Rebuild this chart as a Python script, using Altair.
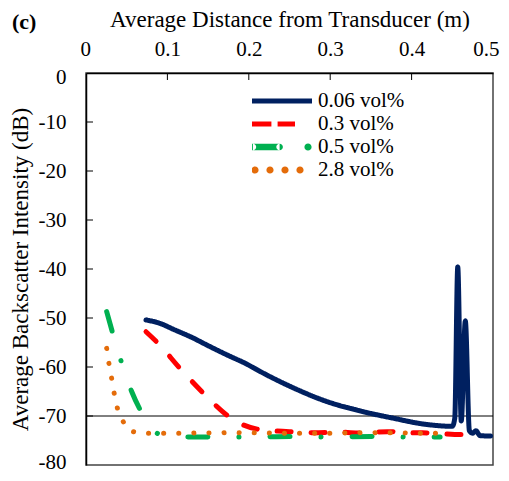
import altair as alt
import pandas as pd

FONT = "Liberation Serif"

series = ["0.06 vol%", "0.3 vol%", "0.5 vol%", "2.8 vol%"]
colors = ["#002060", "#FF0000", "#00B050", "#E46C0A"]

navy_x = [0.0737, 0.0909, 0.1073, 0.1318, 0.1483, 0.1728, 0.1974, 0.2138, 0.254, 0.295,
          0.335, 0.376, 0.417, 0.450, 0.453, 0.4567, 0.461, 0.466, 0.471, 0.475, 0.479,
          0.484, 0.497]
navy_y = [-50.4, -51.1, -52.3, -54.1, -55.5, -57.5, -59.4, -60.9, -64.2, -67.0,
          -68.9, -70.4, -71.7, -72.1, -70.5, -39.6, -71.0, -50.6, -73.0, -73.5, -73.0,
          -74.0, -74.1]

red_x = [0.0737, 0.0888, 0.1155, 0.144, 0.173, 0.193, 0.215, 0.25, 0.28, 0.31, 0.34,
         0.37, 0.40, 0.43, 0.46, 0.48]
red_y = [-52.8, -55.2, -60.3, -65.3, -69.8, -71.8, -72.8, -73.2, -73.4, -73.3, -73.5,
         -73.2, -73.4, -73.5, -73.8, -73.8]

green_x = [0.0254, 0.0335, 0.0439, 0.0561, 0.0725, 0.0909, 0.11, 0.15, 0.20, 0.25,
           0.30, 0.35, 0.40, 0.435]
green_y = [-48.7, -53.5, -59.2, -65.0, -70.4, -73.8, -74.2, -74.3, -74.3, -74.2,
           -74.3, -74.2, -74.3, -74.3]

orange_x = [0.0254, 0.0283, 0.0316, 0.0348, 0.0389, 0.0446, 0.0553, 0.0737, 0.12,
            0.18, 0.24, 0.30, 0.36, 0.41, 0.445]
orange_y = [-56.2, -59.4, -62.4, -65.5, -68.6, -70.8, -73.1, -73.5, -73.5,
            -73.4, -73.5, -73.5, -73.4, -73.5, -73.5]

x_ticks = [0, 0.1, 0.2, 0.3, 0.4, 0.5]
y_ticks = [0, -10, -20, -30, -40, -50, -60, -70, -80]
inner_x_ticks = [0.1, 0.2, 0.3, 0.4]
inner_y_ticks = [-10, -20, -30, -40, -50, -60, -70]
ref_level = [-70]

rows = []
for name, xs, ys in zip(series, [navy_x, red_x, green_x, orange_x],
                        [navy_y, red_y, green_y, orange_y]):
    for i, (xv, yv) in enumerate(zip(xs, ys)):
        rows.append({"series": name, "x": xv, "y": yv, "i": i})
df = pd.DataFrame(rows)


# legend symbol shapes (unit square, 30 px per unit at symbolSize 3600)
def rect(x0, x1, h):
    return f"M{x0},{-h}H{x1}V{h}H{x0}Z"


def circ(cx, r):
    return f"M{cx - r},0A{r},{r} 0 1,0 {cx + r},0A{r},{r} 0 1,0 {cx - r},0Z"


shape_paths = [
    rect(-1, 1, 0.08),
    rect(-1, -0.353, 0.08) + rect(-0.147, 0.433, 0.08),
    rect(-0.97, -0.08, 0.11) + circ(-0.97, 0.11) + circ(-0.08, 0.11) + circ(0.867, 0.12),
    circ(-0.9, 0.12) + circ(-0.4, 0.12) + circ(0.1, 0.12) + circ(0.6, 0.12),
]

xscale = alt.Scale(domain=[0, 0.5], nice=False, zero=False)
yscale = alt.Scale(domain=[-80, 0], nice=False, zero=False)

legend = alt.Legend(
    title=None, orient="none", legendX=166, legendY=17,
    labelFont=FONT, labelFontSize=21, labelColor="black",
    symbolSize=3600, symbolStrokeWidth=0, symbolOpacity=1,
    clipHeight=22, rowPadding=1, padding=0, labelOffset=6,
)

lines = alt.Chart(df).mark_line(strokeCap="round", interpolate="monotone").encode(
    x=alt.X("x:Q", scale=xscale,
            axis=alt.Axis(orient="top", values=x_ticks, labelExpr="'' + datum.value",
                          title="Average Distance from Transducer (m)",
                          titleFont=FONT, titleFontSize=23, titleFontWeight="normal",
                          titleColor="black", titlePadding=7,
                          labelFont=FONT, labelFontSize=21, labelColor="black",
                          labelPadding=14, labelFlush=True, labelFlushOffset=6,
                          labelOverlap=False,
                          ticks=False, grid=False, domainColor="black", domainWidth=1.5)),
    y=alt.Y("y:Q", scale=yscale,
            axis=alt.Axis(values=y_ticks, labelExpr="'' + datum.value",
                          title="Average Backscatter Intensity (dB)",
                          titleFont=FONT, titleFontSize=23, titleFontWeight="normal",
                          titleColor="black", titlePadding=6,
                          labelFont=FONT, labelFontSize=21, labelColor="black",
                          labelPadding=20, labelFlush=True, labelFlushOffset=7,
                          labelOverlap=False,
                          ticks=False, grid=False, domainColor="black", domainWidth=1.5)),
    color=alt.Color("series:N", scale=alt.Scale(domain=series, range=colors),
                    sort=series, legend=None),
    strokeDash=alt.StrokeDash("series:N", scale=alt.Scale(
        domain=series, range=[[1, 0], [14, 20], [20, 31, 0.1, 31], [0.1, 15]]),
        sort=series, legend=None),
    strokeWidth=alt.StrokeWidth("series:N", scale=alt.Scale(
        domain=series, range=[5, 5, 7, 8]), sort=series, legend=None),
    detail="series:N",
    order=alt.Order("i:Q"),
)

leg = alt.Chart(df).transform_filter("false").mark_point(
    filled=True, size=3600, opacity=1, strokeWidth=0).encode(
    color=alt.Color("series:N", scale=alt.Scale(domain=series, range=colors),
                    sort=series, legend=legend),
    shape=alt.Shape("series:N", scale=alt.Scale(domain=series, range=shape_paths),
                    sort=series, legend=legend),
)

ref = alt.Chart(pd.DataFrame({"y": ref_level})).mark_rule(
    color="black", strokeWidth=1).encode(y=alt.Y("y:Q", scale=yscale))

xt = alt.Chart(pd.DataFrame({"x": inner_x_ticks})).mark_rule(
    color="black", strokeWidth=1).encode(
    x=alt.X("x:Q", scale=xscale), y=alt.value(0), y2=alt.value(7))

yt = alt.Chart(pd.DataFrame({"y": inner_y_ticks})).mark_rule(
    color="black", strokeWidth=1).encode(
    y=alt.Y("y:Q", scale=yscale), x=alt.value(0), x2=alt.value(7))

chart = alt.layer(ref, xt, yt, lines, leg).properties(
    width=407, height=392,
    title=alt.TitleParams("(c)", anchor="start", frame="group", font=FONT,
                          fontSize=22, fontWeight="bold", color="black",
                          dx=-74, dy=30),
    autosize=alt.AutoSizeParams(type="none"),
    padding={"left": 78, "top": 65, "right": 8, "bottom": 8},
).resolve_legend(
    color="independent", shape="independent",
    strokeDash="independent", strokeWidth="independent",
).configure_view(stroke="#444444", strokeWidth=1.5)

chart.save("out.html", embed_options={"renderer": "svg", "actions": False})
